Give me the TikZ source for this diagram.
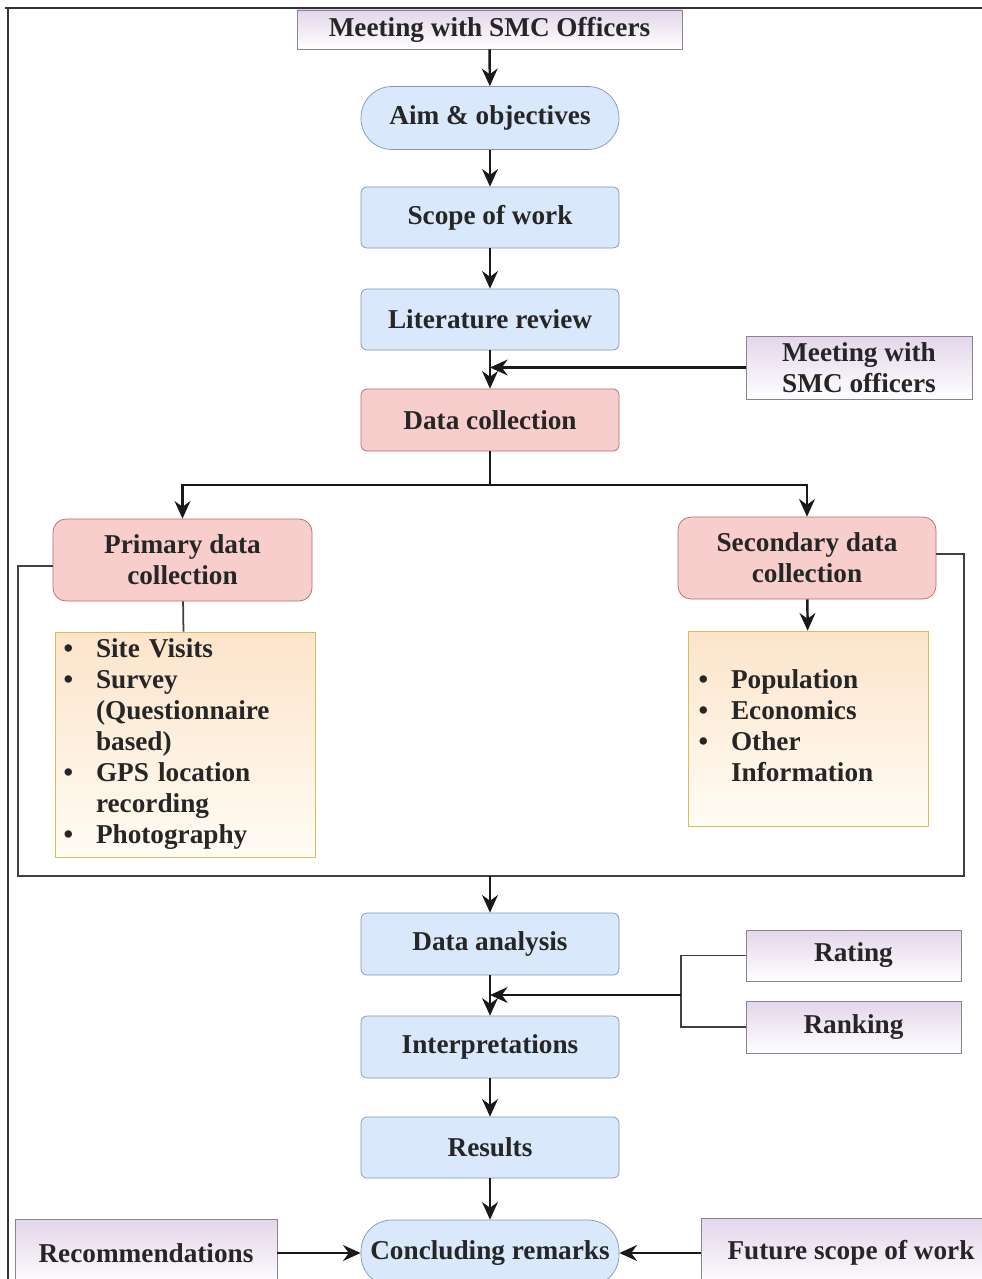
\documentclass[tikz,border=0pt]{standalone}
\usepackage{fontspec}
\setmainfont{Liberation Serif}
\usetikzlibrary{arrows.meta, positioning}

\definecolor{bluefill}{HTML}{DAE8FC}
\definecolor{blueline}{HTML}{7D95BA}
\definecolor{redfill}{HTML}{F8CECC}
\definecolor{redline}{HTML}{B86A66}
\definecolor{purpfill}{HTML}{E3D6EA}
\definecolor{purpline}{HTML}{8C8294}
\definecolor{orangefill}{HTML}{FCE4CA}
\definecolor{orangelow}{HTML}{FFFCF4}
\definecolor{yellowline}{HTML}{D9BC5A}

\begin{document}
\begin{tikzpicture}[
  base/.style={draw, font=\fontsize{15.5}{17.6}\selectfont\bfseries, align=center, text=black!85, inner sep=2pt},
  stepbox/.style={base, fill=bluefill, draw=blueline, rounded corners=0.12cm, minimum width=5.16cm, minimum height=1.22cm},
  aimbox/.style={stepbox, rounded corners=0.62cm, minimum height=1.26cm},
  databox/.style={base, fill=redfill, draw=redline, rounded corners=0.12cm, minimum width=5.16cm, minimum height=1.22cm},
  subbox/.style={databox, rounded corners=0.26cm, minimum height=1.64cm},
  notebox/.style={base, top color=purpfill, bottom color=white, draw=purpline},
  listbox/.style={base, top color=orangefill, bottom color=orangelow, draw=yellowline, align=left, inner xsep=0.17cm},
  flow/.style={-{Stealth[length=10pt,width=9pt]}, line width=1.4pt, draw=black!90},
  link/.style={line width=1pt, draw=black!75}
]
  \useasboundingbox (0,0) rectangle (19.64,-25.58);

  % frame
  \draw[line width=1.5pt, black!80] (0.1,-0.16) -- (19.64,-0.16);
  \draw[line width=1.5pt, black!80] (0.16,-0.16) -- (0.16,-25.58);

  % main column
  \node[notebox, minimum width=7.7cm, minimum height=0.78cm] (meetA) at (9.79,-0.59) {Meeting with SMC Officers};
  \node[aimbox] (aim) at (9.8,-2.36) {Aim \& objectives};
  \node[stepbox] (scope) at (9.8,-4.35) {Scope of work};
  \node[stepbox] (lit) at (9.8,-6.39) {Literature review};
  \node[databox, minimum height=1.24cm] (datacol) at (9.8,-8.40) {Data collection};
  \node[notebox, minimum width=4.52cm, minimum height=1.26cm] (meetB) at (17.18,-7.35) {Meeting with\\SMC officers};

  % data collection branches
  \node[subbox, minimum width=5.18cm] (primary) at (3.65,-11.2) {Primary data\\collection};
  \node[subbox] (secondary) at (16.14,-11.16) {Secondary data\\collection};
  \node[listbox, text width=4.86cm, minimum height=4.5cm] (plist) at (3.7,-14.89) {%
    \begin{tabular}{@{}l@{\hspace{0.46cm}}l@{}}
      \textbullet & Site Visits\\
      \textbullet & Survey\\
                  & (Questionnaire\\
                  & based)\\
      \textbullet & GPS location\\
                  & recording\\
      \textbullet & Photography
    \end{tabular}};
  \node[listbox, text width=4.4cm, minimum height=3.9cm, inner xsep=0.2cm] (slist) at (16.17,-14.57) {%
    \begin{tabular}{@{}l@{\hspace{0.46cm}}l@{}}
      \textbullet & Population\\
      \textbullet & Economics\\
      \textbullet & Other\\
                  & Information
    \end{tabular}};

  % analysis part
  \node[stepbox, minimum height=1.24cm] (analysis) at (9.8,-18.88) {Data analysis};
  \node[stepbox, minimum height=1.24cm] (interp) at (9.8,-20.94) {Interpretations};
  \node[notebox, minimum width=4.3cm, minimum height=1.02cm] (rating) at (17.07,-19.11) {Rating};
  \node[notebox, minimum width=4.3cm, minimum height=1.04cm] (ranking) at (17.07,-20.54) {Ranking};
  \node[stepbox] (results) at (9.8,-22.95) {Results};
  \node[aimbox, minimum height=1.32cm, inner sep=0pt] (concl) at (9.8,-25.06) {Concluding remarks};
  \node[notebox, minimum width=5.24cm, minimum height=1.36cm] (recom) at (2.92,-25.06) {Recommendations};
  \node[notebox, minimum width=6.0cm, minimum height=1.4cm] (future) at (17.02,-25.06) {Future scope of work};

  \coordinate (split) at (9.8,-9.7);
  \coordinate (loopL) at (0.36,-17.52);
  \coordinate (loopR) at (19.28,-17.52);
  \coordinate (join) at (9.8,-17.52);
  \coordinate (brk) at (13.62,-19.9);

  % connectors
  \draw[flow] (meetA) -- (aim);
  \draw[flow] (aim) -- (scope);
  \draw[flow] (scope) -- (lit);
  \draw[flow] (lit) -- (datacol);
  \draw[flow] (meetB.west) -- (meetB.west -| lit.south);
  \draw[line width=1.4pt, black!90] (datacol.south) -- (split);
  \draw[flow] (split) -| (primary.north);
  \draw[flow] (split) -| (secondary.north);
  \draw[link] (primary) -- (plist);
  \draw[flow] (secondary) -- (slist);
  \draw[link] ([yshift=-0.12cm]primary.west) -| (loopL) -- (loopR) |- ([yshift=0.08cm]secondary.east);
  \draw[flow] (join) -- (analysis.north);
  \draw[flow] (analysis) -- (interp);
  \draw[link] (rating.west) -| (brk);
  \draw[link] (ranking.west) -| (brk);
  \draw[flow] (brk) -- (brk -| analysis.south);
  \draw[flow] (interp) -- (results);
  \draw[flow] (results) -- (concl);
  \draw[flow] (recom) -- (concl);
  \draw[flow] (future) -- (concl);
\end{tikzpicture}
\end{document}
